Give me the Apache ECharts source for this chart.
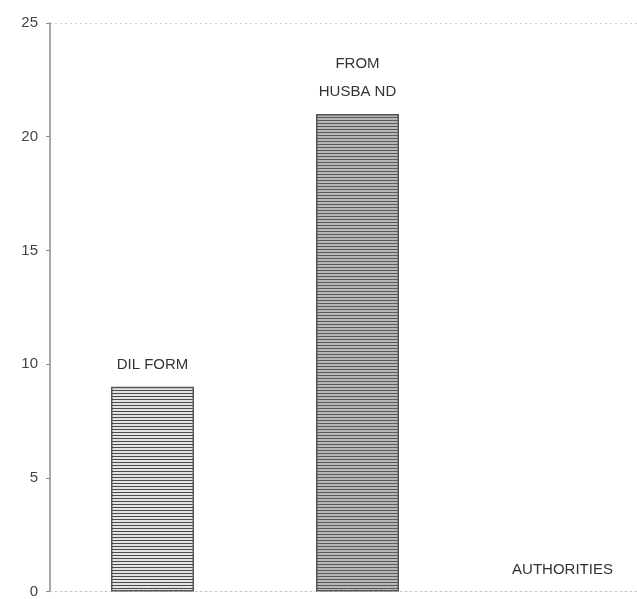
<!DOCTYPE html>
<html><head><meta charset="utf-8">
<script src="https://cdn.jsdelivr.net/npm/echarts@6/dist/echarts.min.js"></script>
<style>html,body{margin:0;padding:0;background:#fff;overflow:hidden;width:637px;height:599px}#c{width:665px;height:599px}</style>
</head><body><div id="c"></div>
<script>
const categories = ["DIL FORM", "FROM\nHUSBA ND", "AUTHORITIES"];
const values = [9, 21, 0];
const yTicks = [0, 5, 10, 15, 20, 25];

function hatch(dark, light) {
  const c = document.createElement('canvas');
  c.width = 4; c.height = 3;
  const g = c.getContext('2d');
  g.fillStyle = light; g.fillRect(0, 0, 4, 3);
  g.fillStyle = dark; g.fillRect(0, 0, 4, 1);
  return c;
}
const pats = [hatch('#4a4a4a', '#e4e4e4'), hatch('#5a5a5a', '#b8b8b8'), hatch('#4a4a4a', '#e4e4e4')];

const chart = echarts.init(document.getElementById('c'));
chart.setOption({
  animation: false,
  grid: { left: 50, top: 23, right: 0, bottom: 5, containLabel: false },
  xAxis: {
    type: 'category', data: categories,
    axisTick: { show: false }, axisLabel: { show: false },
    axisLine: { lineStyle: { color: '#c8c8c8', type: [2, 3], width: 1 } }
  },
  yAxis: {
    type: 'value', min: 0, max: 25, interval: 5,
    axisLine: { show: true, lineStyle: { color: '#8a8a8a', width: 1.5 } },
    axisTick: { show: true, length: 4, lineStyle: { color: '#8a8a8a' } },
    axisLabel: { color: '#444', fontSize: 15, fontFamily: 'Liberation Sans, Arial', margin: 12 },
    splitLine: { show: true, lineStyle: { color: ['transparent', 'transparent', 'transparent', 'transparent', 'transparent', '#cfcfcf'], type: [2, 3] } }
  },
  series: [{
    type: 'bar', barWidth: 83,
    data: values.map((v, i) => ({
      value: v,
      itemStyle: { color: { image: pats[i], repeat: 'repeat' }, borderWidth: v === 0 ? 0 : 1.5 }
    })),
    itemStyle: { borderColor: '#555', borderWidth: 1.5 },
    label: {
      show: true, position: 'top', distance: 8,
      formatter: p => categories[p.dataIndex],
      color: '#333', fontSize: 15, fontFamily: 'Liberation Sans, Arial', lineHeight: 28, align: 'center'
    }
  }]
});
</script></body></html>
